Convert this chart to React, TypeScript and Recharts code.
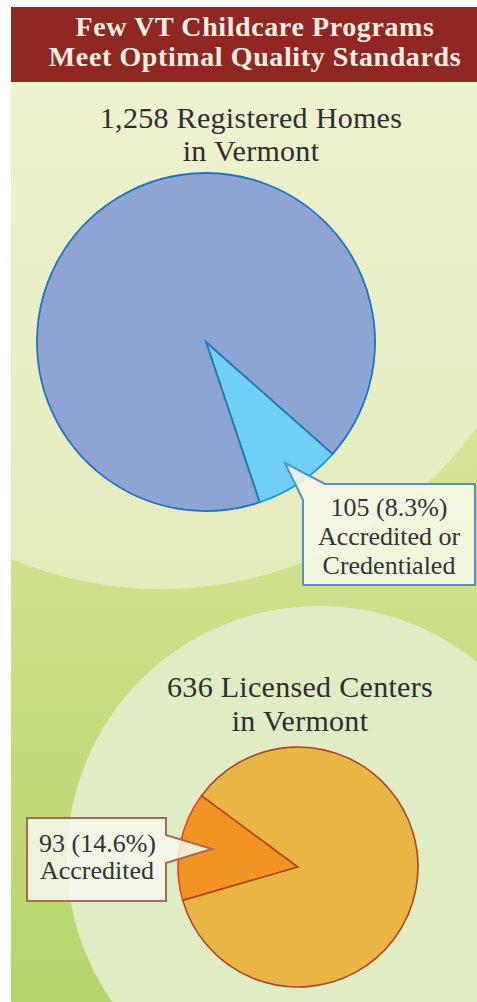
import { PieChart, Pie, Cell } from 'recharts'

// --- data ---
const homeCategories = ['Accredited or Credentialed', 'Other registered homes']
const homeValues = [105, 1153]
const centerCategories = ['Accredited', 'Other licensed centers']
const centerValues = [93, 543]

const homeFill = ['#6fcff5', '#8ea4d4']
const homeStroke = ['#1c9ad8', '#1f74bf']
const centerFill = ['#f39322', '#e9b646']
const centerStroke = ['#e8401c', '#a9462a']

const homeData = homeCategories.map((name, i) => ({ name, value: homeValues[i] }))
const centerData = centerCategories.map((name, i) => ({ name, value: centerValues[i] }))

const sum = (a: number[]) => a.reduce((s, v) => s + v, 0)
const pct = (v: number, arr: number[]) => ((v / sum(arr)) * 100).toFixed(1)

const W = 477
const H = 1002
const SERIF = '"Liberation Serif", "DejaVu Serif", serif'

function Background() {
  return (
    <svg width={W} height={H} style={{ position: 'absolute', left: 0, top: 0 }}>
      <defs>
        <linearGradient id="bg" x1="0" y1="0" x2="0" y2="1">
          <stop offset="0" stopColor="#eef2c6" />
          <stop offset="0.55" stopColor="#d0e18c" />
          <stop offset="1" stopColor="#b5d46b" />
        </linearGradient>
        <linearGradient id="c1" x1="0" y1="0" x2="0" y2="1">
          <stop offset="0" stopColor="#f4f4da" />
          <stop offset="1" stopColor="#e3ecbc" />
        </linearGradient>
        <clipPath id="clipArea">
          <rect x={11} y={82} width={W - 11} height={H - 82} />
        </clipPath>
      </defs>
      <rect x={0} y={0} width={W} height={H} fill="#ffffff" />
      <rect x={11} y={7} width={W - 11} height={H - 7} fill="url(#bg)" />
      <g clipPath="url(#clipArea)">
        <circle cx={161} cy={200} r={389} fill="url(#c1)" />
        <circle cx={319} cy={858} r={252} fill="#e0ecc4" />
      </g>
      <rect x={11} y={7} width={W - 11} height={75} fill="#8f2722" />
    </svg>
  )
}

function Overlay() {
  const titleStyle = { fontFamily: SERIF, fontWeight: 700, fontSize: 28, letterSpacing: 0.6, fill: '#f8efe2' }
  const headStyle = { fontFamily: SERIF, fontSize: 30, letterSpacing: 0.3, fill: '#2e2e2e' }
  const noteStyle = { fontFamily: SERIF, fontSize: 26, fill: '#333333' }
  return (
    <svg width={W} height={H} style={{ position: 'absolute', left: 0, top: 0 }}>
      <text x={255} y={36} textAnchor="middle" style={titleStyle}>
        Few VT Childcare Programs
      </text>
      <text x={255} y={66} textAnchor="middle" style={titleStyle}>
        Meet Optimal Quality Standards
      </text>

      <text x={251} y={128} textAnchor="middle" style={headStyle}>
        {sum(homeValues).toLocaleString('en-US')} Registered Homes
      </text>
      <text x={251} y={161} textAnchor="middle" style={headStyle}>
        in Vermont
      </text>

      <text x={300} y={697} textAnchor="middle" style={headStyle}>
        {sum(centerValues).toLocaleString('en-US')} Licensed Centers
      </text>
      <text x={300} y={731} textAnchor="middle" style={headStyle}>
        in Vermont
      </text>

      {/* callout: registered homes */}
      <path
        d="M325 484 L475 484 L475 585 L303 585 L303 500 L285 463 Z"
        fill="#f5f8e6"
        fillOpacity={0.88}
        stroke="#5a8fc2"
        strokeWidth={2}
      />
      <text x={389} y={516} textAnchor="middle" style={noteStyle}>
        {homeValues[0]} ({pct(homeValues[0], homeValues)}%)
      </text>
      <text x={389} y={545} textAnchor="middle" style={noteStyle}>
        Accredited or
      </text>
      <text x={389} y={574} textAnchor="middle" style={noteStyle}>
        Credentialed
      </text>

      {/* callout: licensed centers */}
      <path
        d="M27 818 L166 818 L166 835 L212 849 L166 863 L166 901 L27 901 Z"
        fill="#f5f8ec"
        fillOpacity={0.85}
        stroke="#a86a50"
        strokeWidth={2}
      />
      <text x={39} y={852} style={noteStyle}>
        {centerValues[0]} ({pct(centerValues[0], centerValues)}%)
      </text>
      <text x={40} y={879} style={noteStyle}>
        {centerCategories[0]}
      </text>
    </svg>
  )
}

export default function App() {
  return (
    <div style={{ position: 'absolute', left: 0, top: 0, width: W, height: H, overflow: 'hidden' }}>
      <Background />
      <div style={{ position: 'absolute', left: 0, top: 0 }}>
        <PieChart width={W} height={H} margin={{ top: 0, right: 0, bottom: 0, left: 0 }}>
          <Pie
            data={homeData}
            dataKey="value"
            nameKey="name"
            cx={206}
            cy={342}
            outerRadius={169}
            startAngle={-71.5}
            endAngle={288.5}
            isAnimationActive={false}
          >
            {homeData.map((_, i) => (
              <Cell key={i} fill={homeFill[i]} stroke={homeStroke[i]} strokeWidth={1.8} />
            ))}
          </Pie>
          <Pie
            data={centerData}
            dataKey="value"
            nameKey="name"
            cx={298}
            cy={867}
            outerRadius={120}
            startAngle={143.5}
            endAngle={503.5}
            isAnimationActive={false}
          >
            {centerData.map((_, i) => (
              <Cell key={i} fill={centerFill[i]} stroke={centerStroke[i]} strokeWidth={1.6} />
            ))}
          </Pie>
        </PieChart>
      </div>
      <Overlay />
    </div>
  )
}
